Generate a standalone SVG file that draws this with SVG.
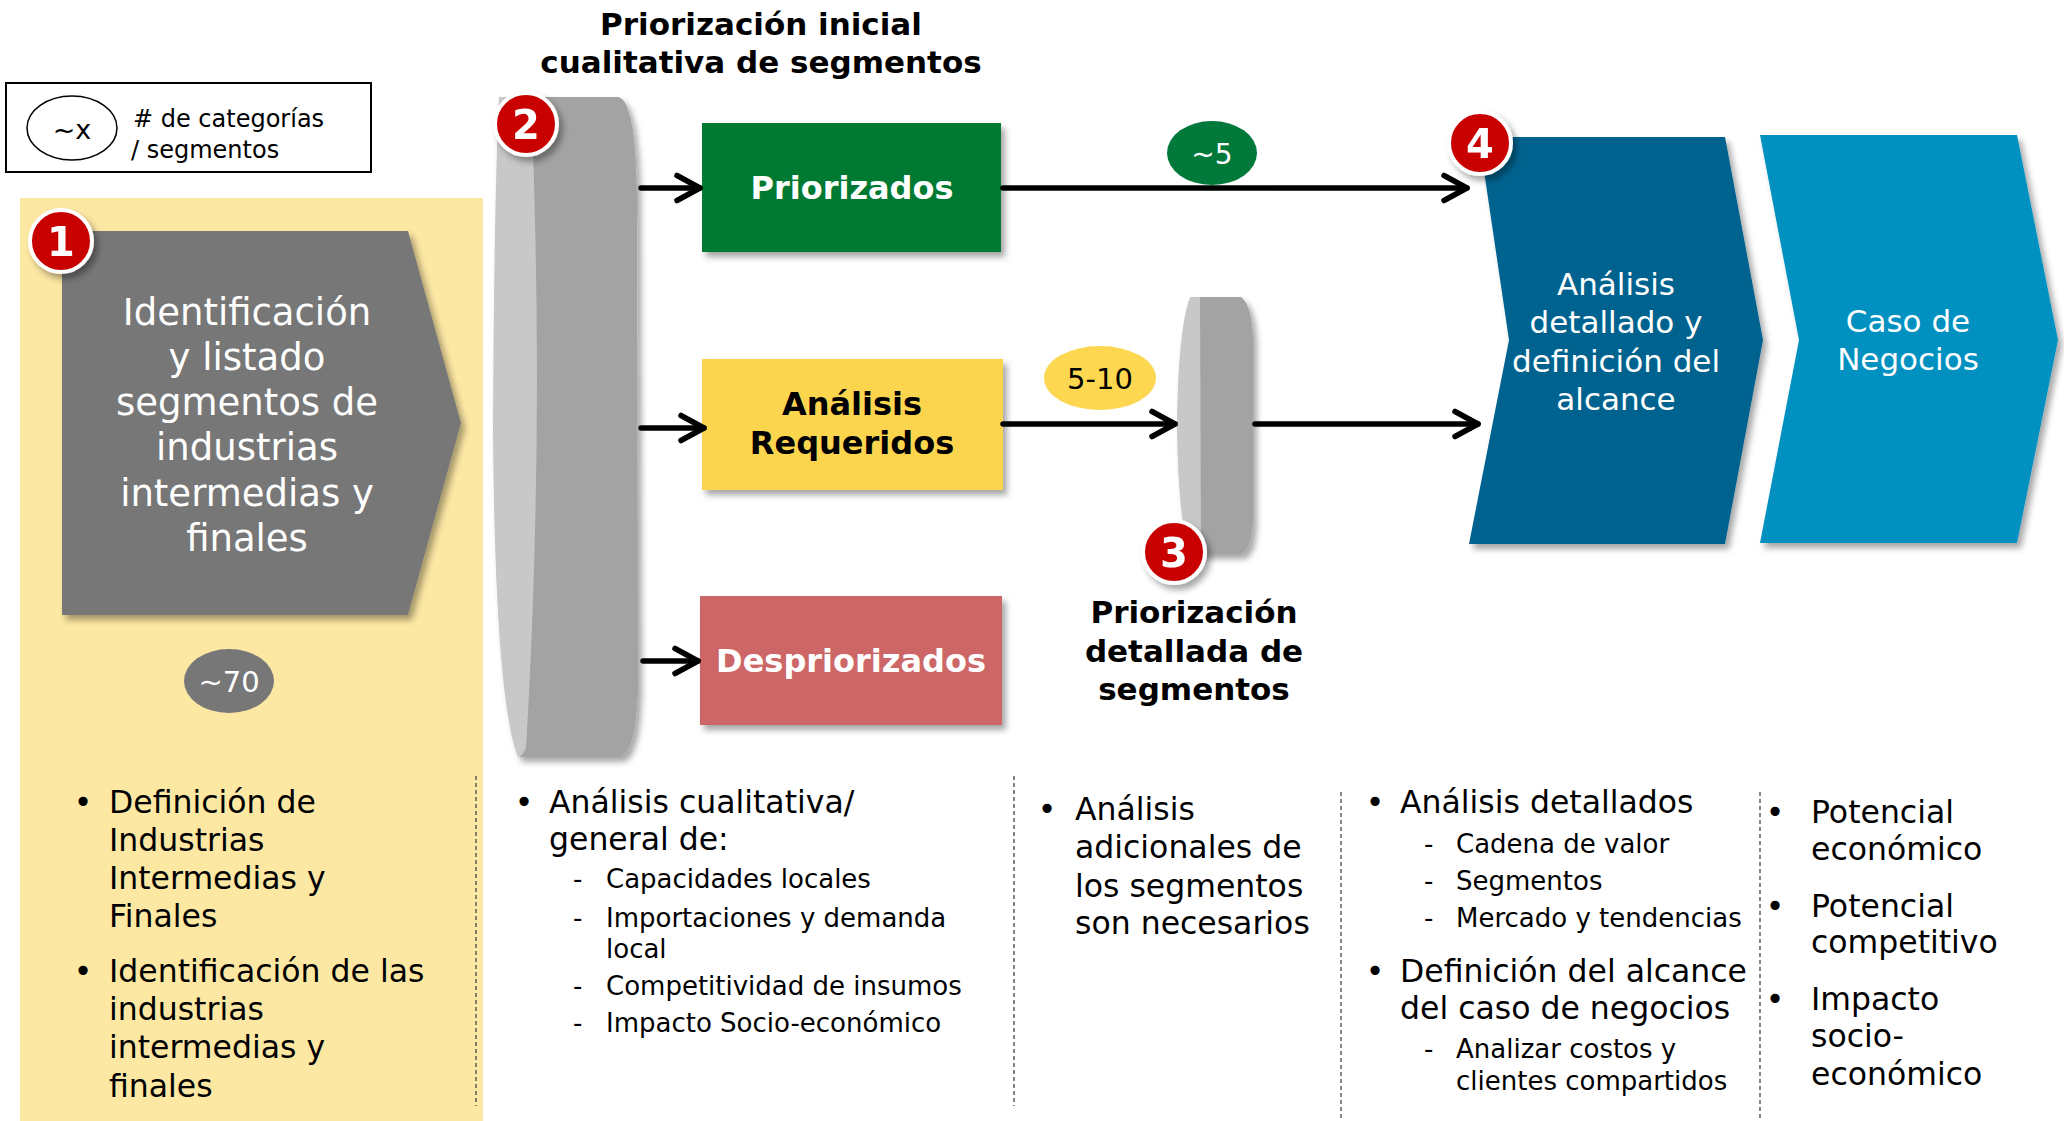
<svg xmlns="http://www.w3.org/2000/svg" width="2064" height="1121" viewBox="0 0 2064 1121">
<defs>
<filter id="sh" x="-20%" y="-20%" width="140%" height="140%">
<feDropShadow dx="4" dy="5" stdDeviation="3" flood-color="#000" flood-opacity="0.35"/>
</filter>
<marker id="ah" viewBox="0 0 34 34" markerWidth="34" markerHeight="34" refX="28" refY="17" orient="auto" markerUnits="userSpaceOnUse">
<path d="M5,4.5 L28,17 L5,29.5" fill="none" stroke="#000" stroke-width="5.5" stroke-linecap="round" stroke-linejoin="round"/>
</marker>
</defs>
<style>
text{font-family:"DejaVu Sans","Verdana",sans-serif;}
.b{font-weight:bold;}
.w{fill:#fff;}
.k{fill:#000;}
.c{text-anchor:middle;}
.badge circle{fill:#c80000;stroke:#fff;stroke-width:4;}
.badge text{font-weight:bold;font-size:40px;fill:#fff;text-anchor:middle;}
.conn line{stroke:#000;stroke-width:5.5;stroke-linecap:round;marker-end:url(#ah);}
.sep line{stroke:#444;stroke-width:1.3;stroke-dasharray:4 3;}
.t31{font-size:31.5px;}
.t26{font-size:26px;}
</style>
<rect width="2064" height="1121" fill="#fff"/>

<!-- yellow background panel -->
<rect id="panel1" x="20" y="198" width="463" height="923" fill="#fce7a3"/>

<!-- legend -->
<g id="legend">
<rect x="6" y="83" width="365" height="89" fill="#fff" stroke="#000" stroke-width="2"/>
<ellipse cx="72" cy="128" rx="45" ry="32" fill="#fff" stroke="#000" stroke-width="1.5"/>
<text x="72" y="139" class="c" font-size="27">~x</text>
<text x="133" y="127" font-size="24"># de categorías</text>
<text x="131" y="158" font-size="24">/ segmentos</text>
</g>

<!-- node 1 -->
<g id="node1">
<polygon points="62,231 408,231 461,423 408,615 62,615" fill="#777" filter="url(#sh)"/>
<g class="w c" font-size="37">
<text x="247" y="325">Identificación</text>
<text x="247" y="370">y listado</text>
<text x="247" y="415">segmentos de</text>
<text x="247" y="460">industrias</text>
<text x="247" y="506">intermedias y</text>
<text x="247" y="551">finales</text>
</g>
</g>
<g id="count70">
<ellipse cx="229" cy="681" rx="45" ry="32" fill="#777"/>
<text x="229" y="692" class="w c" font-size="29">~70</text>
</g>

<!-- title 2 -->
<g id="title2" class="b c k" font-size="31">
<text x="761" y="35">Priorización inicial</text>
<text x="761" y="73">cualitativa de segmentos</text>
</g>

<!-- big filter cylinder -->
<g id="filter2" filter="url(#sh)">
<path d="M525,97 L618,97 Q636,100 637,200 L638,690 Q636,752 620,757 L520,757 Z" fill="#a3a3a3"/>
<path d="M499,97 L531,97 Q545,430 526,748 Q522,757 518,757 Q495,700 493,430 Q494,200 499,97 Z" fill="#c8c8c8"/>
</g>

<!-- boxes -->
<g id="priorizados">
<rect x="702" y="123" width="299" height="129" fill="#007a33" filter="url(#sh)"/>
<text x="852" y="199" class="b w c" font-size="32">Priorizados</text>
</g>
<g id="requeridos">
<rect x="702" y="359" width="301" height="131" fill="#fcd54f" filter="url(#sh)"/>
<text x="852" y="415" class="b k c" font-size="32">Análisis</text>
<text x="852" y="454" class="b k c" font-size="32">Requeridos</text>
</g>
<g id="despriorizados">
<rect x="700" y="596" width="302" height="129" fill="#cd6666" filter="url(#sh)"/>
<text x="851" y="672" class="b w c" font-size="32">Despriorizados</text>
</g>

<!-- small filter cylinder -->
<g id="filter3" filter="url(#sh)">
<path d="M1195,297 L1241,297 Q1252,305 1253,340 L1253,520 Q1252,550 1241,554 L1195,554 Z" fill="#a3a3a3"/>
<path d="M1190,297 L1200,297 L1201,554 L1190,554 Q1178,520 1177,425 Q1178,330 1190,297 Z" fill="#c8c8c8"/>
</g>

<!-- title 3 -->
<g id="title3" class="b c k" font-size="31">
<text x="1194" y="623">Priorización</text>
<text x="1194" y="662">detallada de</text>
<text x="1194" y="700">segmentos</text>
</g>

<!-- blue chevrons -->
<g id="node4">
<polygon points="1479,137 1725,137 1763,340 1725,544 1469,544 1509,340" fill="#03638f" filter="url(#sh)"/>
<g class="w c" font-size="31">
<text x="1616" y="295">Análisis</text>
<text x="1616" y="333">detallado y</text>
<text x="1616" y="372">definición del</text>
<text x="1616" y="410">alcance</text>
</g>
</g>
<g id="node5">
<polygon points="1760,135 2017,135 2058,340 2017,543 1760,543 1799,340" fill="#0391c1" filter="url(#sh)"/>
<text x="1908" y="332" class="w c" font-size="31">Caso de</text>
<text x="1908" y="370" class="w c" font-size="31">Negocios</text>
</g>

<!-- connectors -->
<g id="connectors" class="conn">
<line x1="641" y1="188" x2="700" y2="188"/>
<line x1="641" y1="428" x2="704" y2="428"/>
<line x1="643" y1="661" x2="698" y2="661"/>
<line x1="1003" y1="188" x2="1467" y2="188"/>
<line x1="1003" y1="424" x2="1175" y2="424"/>
<line x1="1255" y1="424" x2="1478" y2="424"/>
</g>

<!-- count labels -->
<g id="count5">
<ellipse cx="1212" cy="153" rx="45" ry="32" fill="#00793a"/>
<text x="1212" y="164" class="w c" font-size="28">~5</text>
</g>
<g id="count510">
<ellipse cx="1100" cy="378" rx="56" ry="32" fill="#fcd74f"/>
<text x="1100" y="389" class="k c" font-size="29">5-10</text>
</g>

<!-- badges -->
<g id="badge1" class="badge" filter="url(#sh)"><circle cx="61" cy="241" r="31"/><text x="61" y="256">1</text></g>
<g id="badge2" class="badge" filter="url(#sh)"><circle cx="526" cy="124" r="31"/><text x="526" y="139">2</text></g>
<g id="badge3" class="badge" filter="url(#sh)"><circle cx="1174" cy="552" r="31"/><text x="1174" y="567">3</text></g>
<g id="badge4" class="badge" filter="url(#sh)"><circle cx="1480" cy="143" r="31"/><text x="1480" y="158">4</text></g>

<!-- separators -->
<g id="separators" class="sep">
<line x1="476" y1="776" x2="476" y2="1106"/>
<line x1="1014" y1="776" x2="1014" y2="1106"/>
<line x1="1341" y1="792" x2="1341" y2="1121"/>
<line x1="1760" y1="792" x2="1760" y2="1121"/>
</g>

<!-- column texts -->
<g id="col1" class="k t31">
<text x="83" y="813" class="c">•</text>
<text x="109" y="813">Definición de</text>
<text x="109" y="851">Industrias</text>
<text x="109" y="889">Intermedias y</text>
<text x="109" y="927">Finales</text>
<text x="83" y="982" class="c">•</text>
<text x="109" y="982">Identificación de las</text>
<text x="109" y="1020">industrias</text>
<text x="109" y="1058">intermedias y</text>
<text x="109" y="1097">finales</text>
</g>
<g id="col2" class="k">
<text x="524" y="813" class="c t31">•</text>
<text x="549" y="813" class="t31">Análisis cualitativa/</text>
<text x="549" y="850" class="t31">general de:</text>
<g class="t26">
<text x="573" y="888">-</text><text x="606" y="888">Capacidades locales</text>
<text x="573" y="927">-</text><text x="606" y="927">Importaciones y demanda</text>
<text x="606" y="958">local</text>
<text x="573" y="995">-</text><text x="606" y="995">Competitividad de insumos</text>
<text x="573" y="1032">-</text><text x="606" y="1032">Impacto Socio-económico</text>
</g>
</g>
<g id="col3" class="k t31">
<text x="1047" y="820" class="c">•</text>
<text x="1075" y="820">Análisis</text>
<text x="1075" y="858">adicionales de</text>
<text x="1075" y="897">los segmentos</text>
<text x="1075" y="934">son necesarios</text>
</g>
<g id="col4" class="k">
<text x="1375" y="813" class="c t31">•</text>
<text x="1400" y="813" class="t31">Análisis detallados</text>
<g class="t26">
<text x="1424" y="853">-</text><text x="1456" y="853">Cadena de valor</text>
<text x="1424" y="890">-</text><text x="1456" y="890">Segmentos</text>
<text x="1424" y="927">-</text><text x="1456" y="927">Mercado y tendencias</text>
</g>
<text x="1375" y="982" class="c t31">•</text>
<text x="1400" y="982" class="t31">Definición del alcance</text>
<text x="1400" y="1019" class="t31">del caso de negocios</text>
<g class="t26">
<text x="1424" y="1058">-</text><text x="1456" y="1058">Analizar costos y</text>
<text x="1456" y="1090">clientes compartidos</text>
</g>
</g>
<g id="col5" class="k t31">
<text x="1775" y="823" class="c">•</text>
<text x="1811" y="823">Potencial</text>
<text x="1811" y="860">económico</text>
<text x="1775" y="917" class="c">•</text>
<text x="1811" y="917">Potencial</text>
<text x="1811" y="953">competitivo</text>
<text x="1775" y="1010" class="c">•</text>
<text x="1811" y="1010">Impacto</text>
<text x="1811" y="1047">socio-</text>
<text x="1811" y="1085">económico</text>
</g>
</svg>
